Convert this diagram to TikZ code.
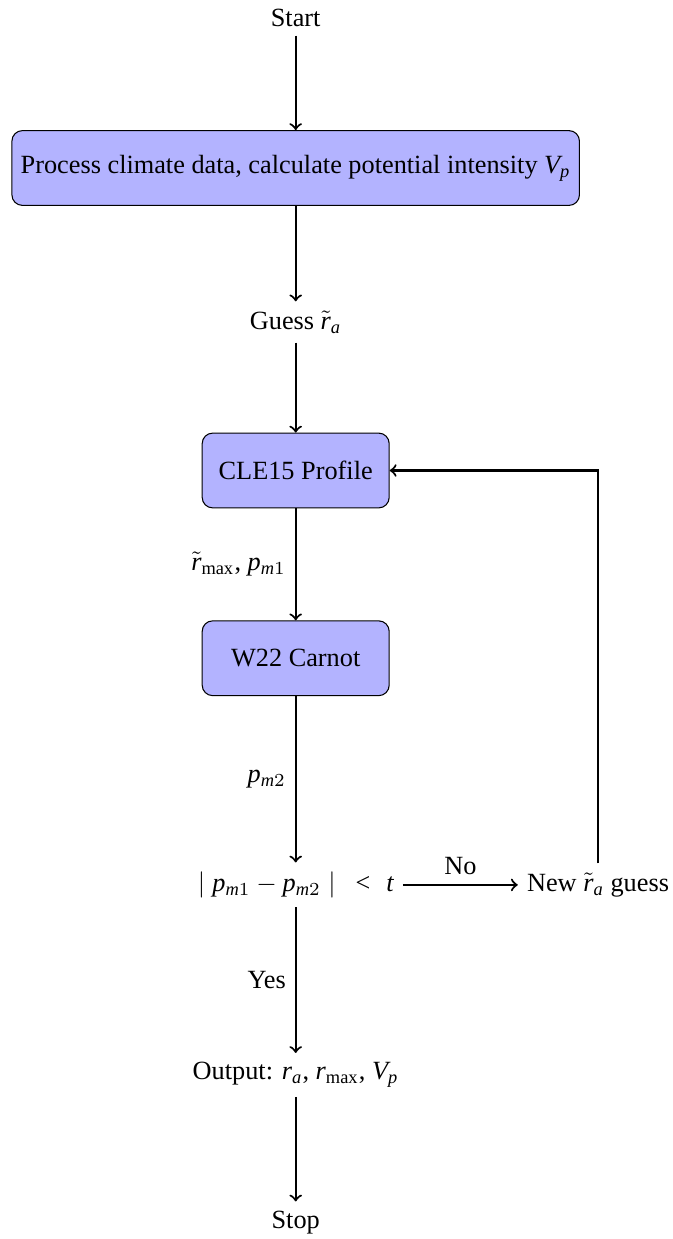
\documentclass[tikz,border=0pt]{standalone}
\usepackage{fontspec}
\setmainfont{Liberation Serif}
\newfontfamily\fcmathfont{Liberation Serif}[NFSSFamily=fcmath]
\DeclareSymbolFont{letters}{TU}{fcmath}{m}{it}
\definecolor{fcfill}{HTML}{B3B3FF}

\begin{document}
\begin{tikzpicture}[
  fcblock/.style={rectangle,draw,rounded corners,fill=fcfill,minimum width=2.5cm,minimum height=1cm},
  fcarrow/.style={->,thick}]
  \useasboundingbox (0,0) rectangle (8.997,-16.564);
  % column of steps
  \node (start) at (3.953,-0.234) {Start};
  \node[fcblock] (climate) at (3.953,-2.246) {Process climate data, calculate potential intensity $V_p$};
  \node (guess) at (3.953,-4.305) {Guess $\tilde{r}_a$};
  \node[fcblock] (cle) at (3.953,-6.29) {CLE15 Profile};
  \node[fcblock] (carnot) at (3.953,-8.80) {W22 Carnot};
  \node (check) at (3.953,-11.83) {$\mid p_{m1} - p_{m2} \mid\hspace{7pt}<\; t$};
  \node (newguess) at (7.995,-11.83) {New $\tilde{r}_a$ guess};
  \node (output) at (3.953,-14.37) {Output: $r_a$, $r_{\max}$, $V_p$};
  \node (stop) at (3.953,-16.34) {Stop};
  % connectors
  \draw[fcarrow] (start) -- (climate);
  \draw[fcarrow] (climate) -- (guess);
  \draw[fcarrow] (guess) -- (cle);
  \draw[fcarrow] (cle) -- node[left] {$\tilde{r}_{\max}$, $p_{m1}$} (carnot);
  \draw[fcarrow] (carnot) -- node[left] {$p_{m2}$} (check);
  \draw[fcarrow] (check) -- node[above] {No} (newguess);
  \draw[fcarrow] (check) -- node[left] {Yes} (output);
  \draw[fcarrow] (output) -- (stop);
  \draw[fcarrow] (newguess) |- (cle);
\end{tikzpicture}
\end{document}
